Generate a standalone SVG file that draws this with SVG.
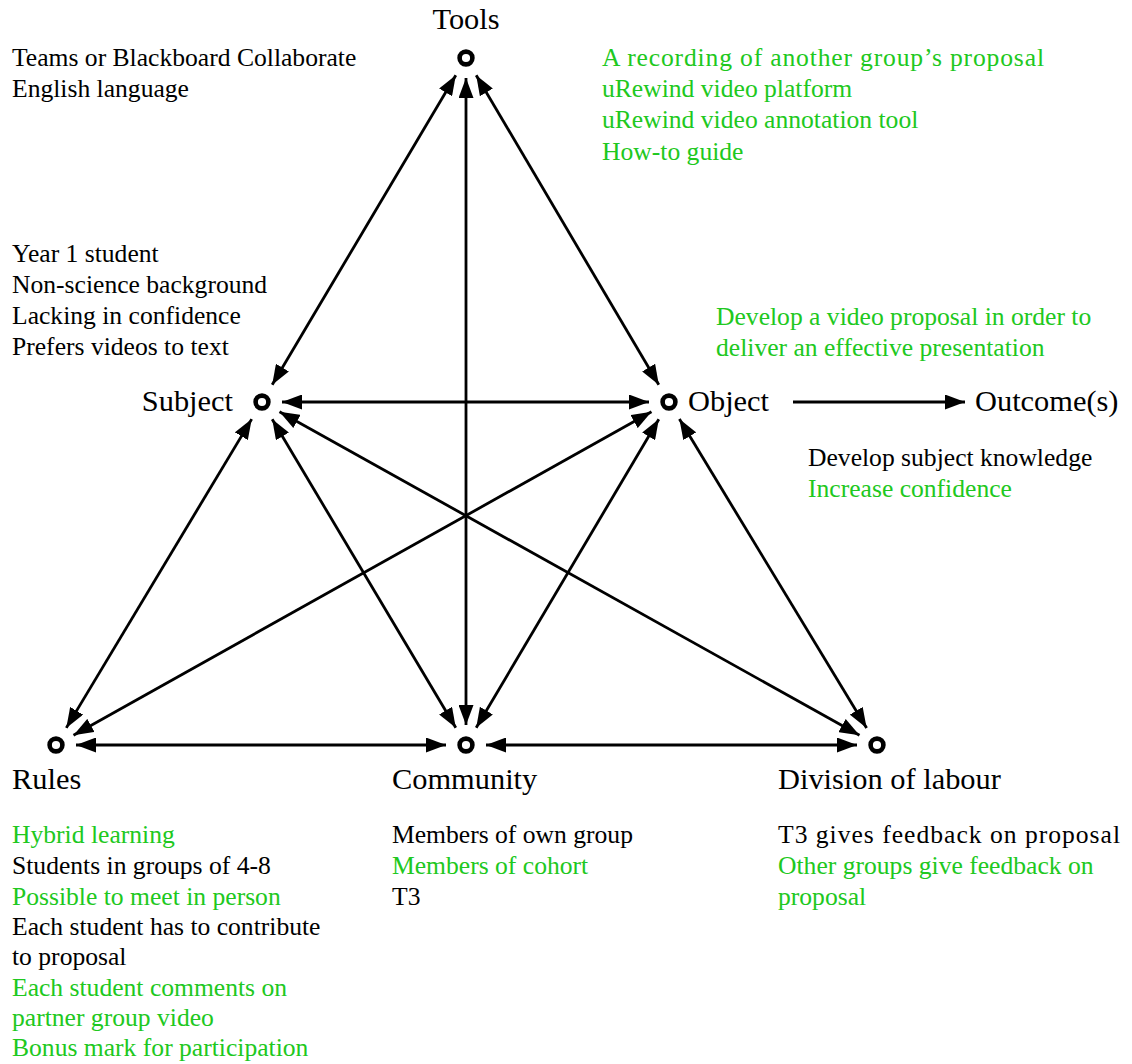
<svg xmlns="http://www.w3.org/2000/svg" width="1132" height="1064" viewBox="0 0 1132 1064">
  <defs>
    <marker id="head" viewBox="0 0 20 15" refX="20" refY="7.5" markerWidth="20" markerHeight="15" markerUnits="userSpaceOnUse" orient="auto-start-reverse">
      <path d="M0,0 L20,7.5 L0,15 Z" fill="#000"/>
    </marker>
    <style>
      text { font-family: "Liberation Serif", "Times New Roman", serif; fill: #000; }
      .label { font-size: 30.4px; }
      .note { font-size: 25.6px; }
      .g { fill: #20c820; }
      .node circle { fill: #fff; stroke: #000; stroke-width: 4.6; }
      .link { stroke: #000; stroke-width: 2.8; fill: none; marker-start: url(#head); marker-end: url(#head); }
      .one { stroke: #000; stroke-width: 2.8; fill: none; marker-end: url(#head); }
    </style>
  </defs>
  <rect width="1132" height="1064" fill="#fff"/>

  <!-- connectors: every pair of triangle corners, plus object to outcome -->
  <g id="connectors">
    <line class="link" x1="455.8" y1="75.2" x2="272.2" y2="384.8"/>
    <line class="link" x1="476.2" y1="75.2" x2="658.8" y2="384.8"/>
    <line class="link" x1="466" y1="78" x2="466" y2="725"/>
    <line class="link" x1="282" y1="402" x2="649" y2="402"/>
    <line class="link" x1="251.7" y1="419.1" x2="66.3" y2="727.9"/>
    <line class="link" x1="272.2" y1="419.2" x2="455.8" y2="727.8"/>
    <line class="link" x1="279.5" y1="411.7" x2="859.5" y2="735.3"/>
    <line class="link" x1="651.5" y1="411.8" x2="73.5" y2="735.2"/>
    <line class="link" x1="658.8" y1="419.2" x2="476.2" y2="727.8"/>
    <line class="link" x1="679.4" y1="419.1" x2="866.6" y2="727.9"/>
    <line class="link" x1="76" y1="745" x2="446" y2="745"/>
    <line class="link" x1="486" y1="745" x2="857" y2="745"/>
    <line class="one" x1="793" y1="402" x2="965" y2="402"/>
  </g>

  <g id="tools" class="node">
    <circle cx="466" cy="58" r="6.4"/>
    <text class="label" x="466" y="29" text-anchor="middle">Tools</text>
    <text class="note" x="12" y="66">Teams or Blackboard Collaborate</text>
    <text class="note" x="12" y="97">English language</text>
    <text class="note g" x="602" y="66" textLength="442" lengthAdjust="spacing">A recording of another group’s proposal</text>
    <text class="note g" x="602" y="97">uRewind video platform</text>
    <text class="note g" x="602" y="128">uRewind video annotation tool</text>
    <text class="note g" x="602" y="160">How-to guide</text>
  </g>

  <g id="subject" class="node">
    <circle cx="262" cy="402" r="6.4"/>
    <text class="label" x="233" y="411" text-anchor="end">Subject</text>
    <text class="note" x="12" y="262">Year 1 student</text>
    <text class="note" x="12" y="293">Non-science background</text>
    <text class="note" x="12" y="324">Lacking in confidence</text>
    <text class="note" x="12" y="355">Prefers videos to text</text>
  </g>

  <g id="object" class="node">
    <circle cx="669" cy="402" r="6.4"/>
    <text class="label" x="688" y="411">Object</text>
    <text class="note g" x="716" y="325">Develop a video proposal in order to</text>
    <text class="note g" x="716" y="356">deliver an effective presentation</text>
  </g>

  <g id="outcome">
    <text class="label" x="975" y="411">Outcome(s)</text>
    <text class="note" x="808" y="466">Develop subject knowledge</text>
    <text class="note g" x="808" y="497">Increase confidence</text>
  </g>

  <g id="rules" class="node">
    <circle cx="56" cy="745" r="6.4"/>
    <text class="label" x="12" y="789">Rules</text>
    <text class="note g" x="12" y="843">Hybrid learning</text>
    <text class="note" x="12" y="874">Students in groups of 4-8</text>
    <text class="note g" x="12" y="905">Possible to meet in person</text>
    <text class="note" x="12" y="935">Each student has to contribute</text>
    <text class="note" x="12" y="965">to proposal</text>
    <text class="note g" x="12" y="996">Each student comments on</text>
    <text class="note g" x="12" y="1026">partner group video</text>
    <text class="note g" x="12" y="1056">Bonus mark for participation</text>
  </g>

  <g id="community" class="node">
    <circle cx="466" cy="745" r="6.4"/>
    <text class="label" x="392" y="789">Community</text>
    <text class="note" x="392" y="843">Members of own group</text>
    <text class="note g" x="392" y="874">Members of cohort</text>
    <text class="note" x="392" y="905">T3</text>
  </g>

  <g id="division" class="node">
    <circle cx="877" cy="745" r="6.4"/>
    <text class="label" x="778" y="789">Division of labour</text>
    <text class="note" x="778" y="843" textLength="342" lengthAdjust="spacing">T3 gives feedback on proposal</text>
    <text class="note g" x="778" y="874">Other groups give feedback on</text>
    <text class="note g" x="778" y="905">proposal</text>
  </g>
</svg>
